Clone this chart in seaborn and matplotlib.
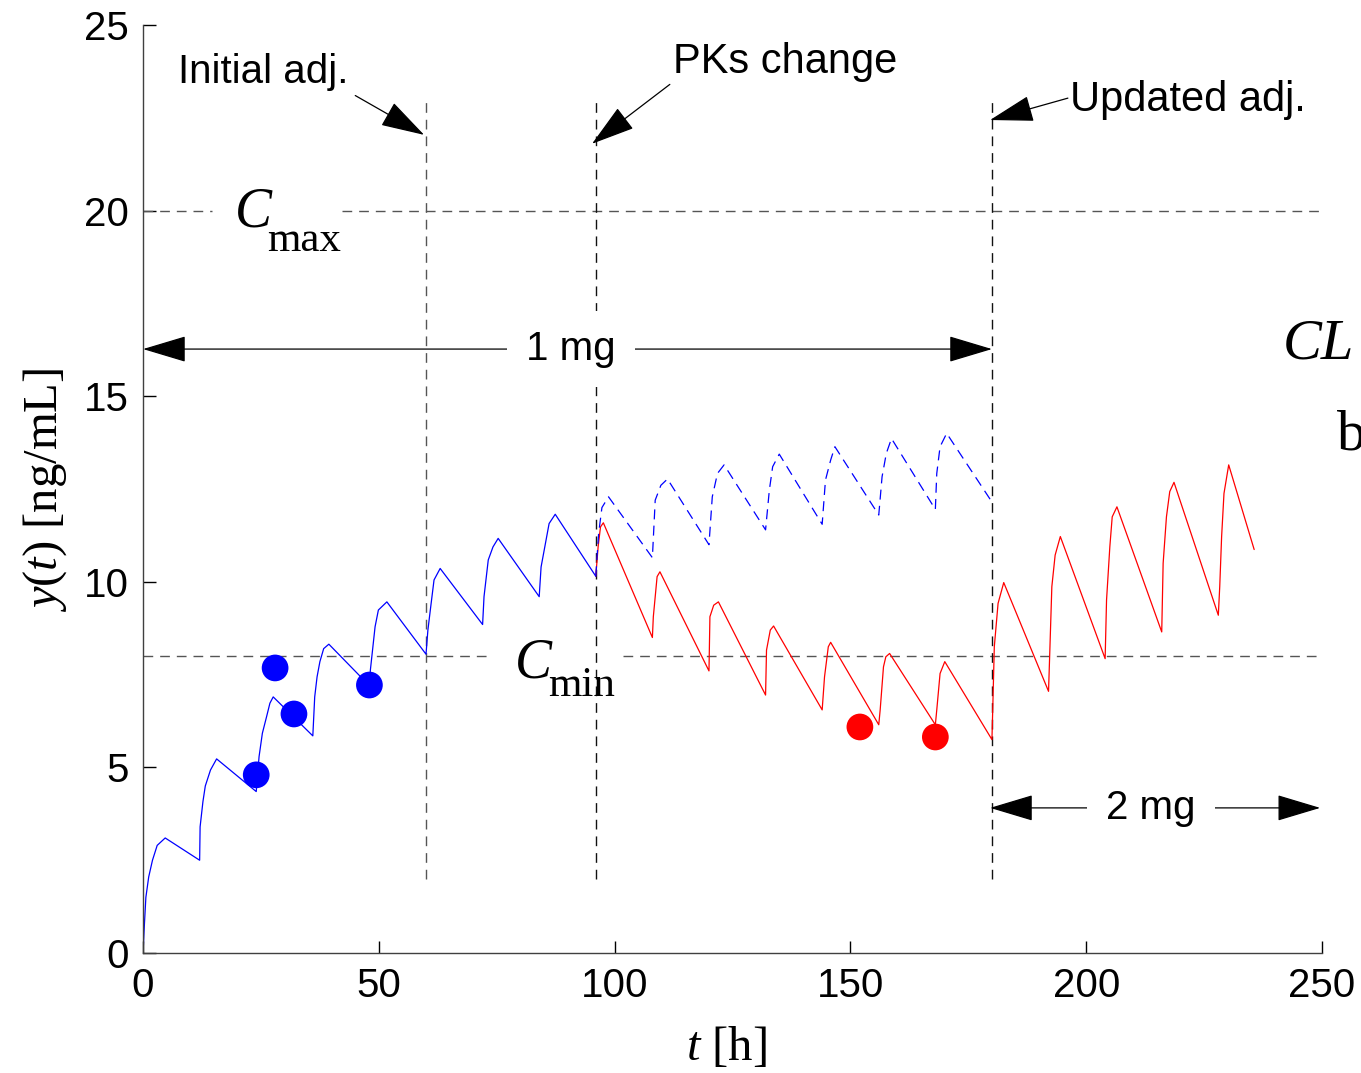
import matplotlib
matplotlib.use('Agg')
import matplotlib.pyplot as plt
import seaborn as sns

# ---------------- data ----------------
# initial PK model, 1 mg every 12 h (solid blue, 0-96 h)
t_blue = [0, 0.3, 0.6, 1.2, 2.0, 3.0, 4.7, 12.0,
          12.1, 12.7, 13.2, 14.3, 15.6, 24.0,
          24.6, 25.3, 26.2, 26.9, 27.6, 36.0,
          36.4, 36.9, 37.5, 38.3, 39.4, 48.0,
          48.2, 49.2, 49.9, 51.7, 60.0,
          60.4, 61.0, 61.7, 63.0, 72.0,
          72.3, 73.2, 74.2, 75.3, 84.0,
          84.4, 85.2, 86.1, 87.4, 96.0]
y_blue = [0, 0.8, 1.5, 2.05, 2.5, 2.9, 3.1, 2.5,
          3.4, 4.08, 4.5, 4.93, 5.23, 4.35,
          5.29, 5.92, 6.37, 6.73, 6.9, 5.85,
          6.9, 7.44, 7.85, 8.2, 8.32, 7.2,
          7.62, 8.79, 9.24, 9.46, 8.05,
          8.7, 9.33, 10.05, 10.36, 8.85,
          9.6, 10.59, 10.94, 11.17, 9.6,
          10.4, 10.95, 11.57, 11.82, 10.15]

# unchanged PKs prediction (dashed blue, 96-180 h)
t_dash = [96.0, 96.6, 97.3, 98.7, 108.0,
          108.6, 109.8, 111.2, 120.0,
          120.7, 121.8, 123.2, 132.0,
          132.8, 133.5, 134.9, 144.0,
          144.7, 145.8, 146.7, 156.0,
          156.7, 157.6, 158.7, 168.0,
          168.3, 169.0, 170.4, 180.0]
y_dash = [10.15, 11.3, 12.0, 12.29, 10.65,
          12.2, 12.6, 12.77, 11.0,
          12.29, 12.92, 13.15, 11.4,
          12.47, 13.1, 13.44, 11.55,
          12.74, 13.28, 13.64, 11.8,
          12.83, 13.46, 13.86, 11.95,
          12.92, 13.64, 14.0, 12.15]

# changed PKs (red, 96-236 h), dose raised to 2 mg at 180 h
t_red = [96.0, 96.5, 97.0, 97.6, 108.0,
         108.2, 109.0, 109.6, 120.0,
         120.2, 121.0, 122.0, 132.0,
         132.2, 133.0, 133.7, 144.0,
         144.5, 145.3, 145.8, 156.0,
         156.3, 157.0, 157.5, 158.3, 168.0,
         168.3, 169.0, 170.0, 180.0,
         180.2, 180.5, 181.3, 182.5, 192.0,
         192.3, 192.7, 193.4, 194.5, 204.0,
         204.3, 205.0, 205.5, 206.5, 216.0,
         216.3, 217.0, 217.7, 218.6, 228.0,
         228.3, 228.7, 229.2, 230.2, 235.6]
y_red = [10.15, 10.95, 11.48, 11.59, 8.5,
         9.06, 10.14, 10.27, 7.6,
         9.06, 9.37, 9.46, 6.95,
         8.16, 8.7, 8.81, 6.55,
         7.44, 8.25, 8.37, 6.15,
         6.55, 7.71, 7.98, 8.07, 6.15,
         6.55, 7.53, 7.85, 5.75,
         6.73, 8.25, 9.42, 9.98, 7.05,
         8.25, 9.87, 10.72, 11.22, 7.93,
         9.51, 10.95, 11.75, 12.02, 8.65,
         10.5, 11.75, 12.43, 12.68, 9.1,
         9.87, 11.22, 12.38, 13.15, 10.87]

# measured samples
t_obs_blue = [24, 28, 32, 48]
y_obs_blue = [4.8, 7.68, 6.44, 7.22]
t_obs_red = [152, 168]
y_obs_red = [6.09, 5.82]

c_max = 20
c_min = 8
event_times = [60, 96, 180]
event_labels = ['Initial adj.', 'PKs change', 'Updated adj.']
dose_labels = ['1 mg', '2 mg']
x_ticks = [0, 50, 100, 150, 200, 250]
y_ticks = [0, 5, 10, 15, 20, 25]

# ---------------- style ----------------
sns.set_style('ticks')
plt.rcParams['font.family'] = ['Liberation Sans', 'DejaVu Sans']
plt.rcParams['text.color'] = 'black'
plt.rcParams['axes.labelcolor'] = 'black'
plt.rcParams['xtick.color'] = 'black'
plt.rcParams['ytick.color'] = 'black'
plt.rcParams['mathtext.fontset'] = 'custom'
plt.rcParams['mathtext.rm'] = 'Liberation Serif'
plt.rcParams['mathtext.it'] = 'Liberation Serif:italic'

fig = plt.figure(figsize=(13.61, 10.73), dpi=100)
ax = fig.add_axes([0.1051, 0.1118, 0.8663, 0.8649])
ax.set_xlim(0, 250)
ax.set_ylim(0, 25)

serif = ['Liberation Serif', 'DejaVu Serif']

# reference horizontal lines with gaps for the labels
grey = '#555555'
ax.plot([0, 14.6], [c_max, c_max], color=grey, lw=1.0, ls=(0, (7, 5)))
ax.plot([42.2, 250], [c_max, c_max], color=grey, lw=1.0, ls=(0, (7, 5)))
ax.plot([0, 73.2], [c_min, c_min], color=grey, lw=1.0, ls=(0, (7, 5)))
ax.plot([101.8, 250], [c_min, c_min], color=grey, lw=1.0, ls=(0, (7, 5)))

# vertical event lines
for tv, col in zip(event_times, ['#555555', '#111111', '#111111']):
    ax.plot([tv, tv], [2.0, 23.0], color=col, lw=1.0, ls=(0, (7, 5)))

# curves
sns.lineplot(x=t_red, y=y_red, color='#ff0000', lw=0.9, estimator=None,
             sort=False, ax=ax)
sns.lineplot(x=t_dash, y=y_dash, color='#0000ff', lw=0.9, estimator=None,
             sort=False, ax=ax, linestyle=(0, (8, 5)))
sns.lineplot(x=t_blue, y=y_blue, color='#0000ff', lw=0.9, estimator=None,
             sort=False, ax=ax)

# samples
sns.scatterplot(x=t_obs_blue, y=y_obs_blue, color='#0000ff', s=370,
                edgecolor='none', ax=ax, zorder=5)
sns.scatterplot(x=t_obs_red, y=y_obs_red, color='#ff0000', s=370,
                edgecolor='none', ax=ax, zorder=5)

# Cmax / Cmin labels
ax.text(19.5, 19.96, 'C', fontsize=40, fontstyle='italic', family=serif,
        ha='left', va='center')
ax.text(26.3, 19.2, 'max', fontsize=31, family=serif, ha='left', va='center')
ax.text(78.9, 7.81, 'C', fontsize=40, fontstyle='italic', family=serif,
        ha='left', va='center')
ax.text(85.9, 7.2, 'min', fontsize=31, family=serif, ha='left', va='center')

# event annotations
head = dict(arrowstyle='-|>,head_length=1.4,head_width=0.42',
            mutation_scale=20, color='black', lw=0.9, shrinkA=0, shrinkB=0)
ax.annotate('', xy=(59.6, 22.04), xytext=(45.0, 23.1), arrowprops=head)
ax.annotate('', xy=(95.2, 21.8), xytext=(111.7, 23.4), arrowprops=head)
ax.annotate('', xy=(179.6, 22.44), xytext=(196.1, 23.03), arrowprops=head)
ax.text(7.4, 23.73, event_labels[0], fontsize=29, ha='left', va='center')
ax.text(112.4, 24.0, event_labels[1], fontsize=30, ha='left', va='center')
ax.text(196.6, 22.98, event_labels[2], fontsize=30, ha='left', va='center')

# dose arrows
dbl = dict(arrowstyle='<|-|>,head_length=1.4,head_width=0.42',
           mutation_scale=20, color='black', lw=0.9, shrinkA=0, shrinkB=0)
ax.annotate('', xy=(0, 16.27), xytext=(180, 16.27), arrowprops=dbl)
ax.annotate('', xy=(179.6, 3.91), xytext=(249.6, 3.91), arrowprops=dbl)
ax.text(90.8, 16.27, dose_labels[0], fontsize=29, ha='center', va='center',
        bbox=dict(facecolor='white', edgecolor='none', pad=14), zorder=6)
ax.text(213.7, 3.91, dose_labels[1], fontsize=29, ha='center', va='center',
        bbox=dict(facecolor='white', edgecolor='none', pad=14), zorder=6)

# text cut off at the right edge (as in the reference)
ax.text(241.7, 16.38, 'CL', fontsize=42, fontstyle='italic', family=serif,
        ha='left', va='center', clip_on=False)
ax.text(253.2, 13.95, 'b', fontsize=42, family=serif, ha='left',
        va='center', clip_on=False)

# axes
ax.set_xticks(x_ticks)
ax.set_yticks(y_ticks)
ax.tick_params(direction='in', length=9, width=1, labelsize=29, pad=10,
               color='black', labelcolor='black')
sns.despine(ax=ax)
for sp in ['left', 'bottom']:
    ax.spines[sp].set_color('#404040')
    ax.spines[sp].set_linewidth(1.0)

ax.set_xlabel(r'$t$ [h]', fontsize=35, family=serif, color='black')
ax.xaxis.label.set_va('center')
ax.xaxis.set_label_coords(0.495, -0.102)
ax.set_ylabel(r'$y(t)$ [ng/mL]', fontsize=35, family=serif, color='black')
ax.yaxis.label.set_va('center')
ax.yaxis.set_label_coords(-0.083, 0.499)

fig.savefig('out.png', dpi=100)
